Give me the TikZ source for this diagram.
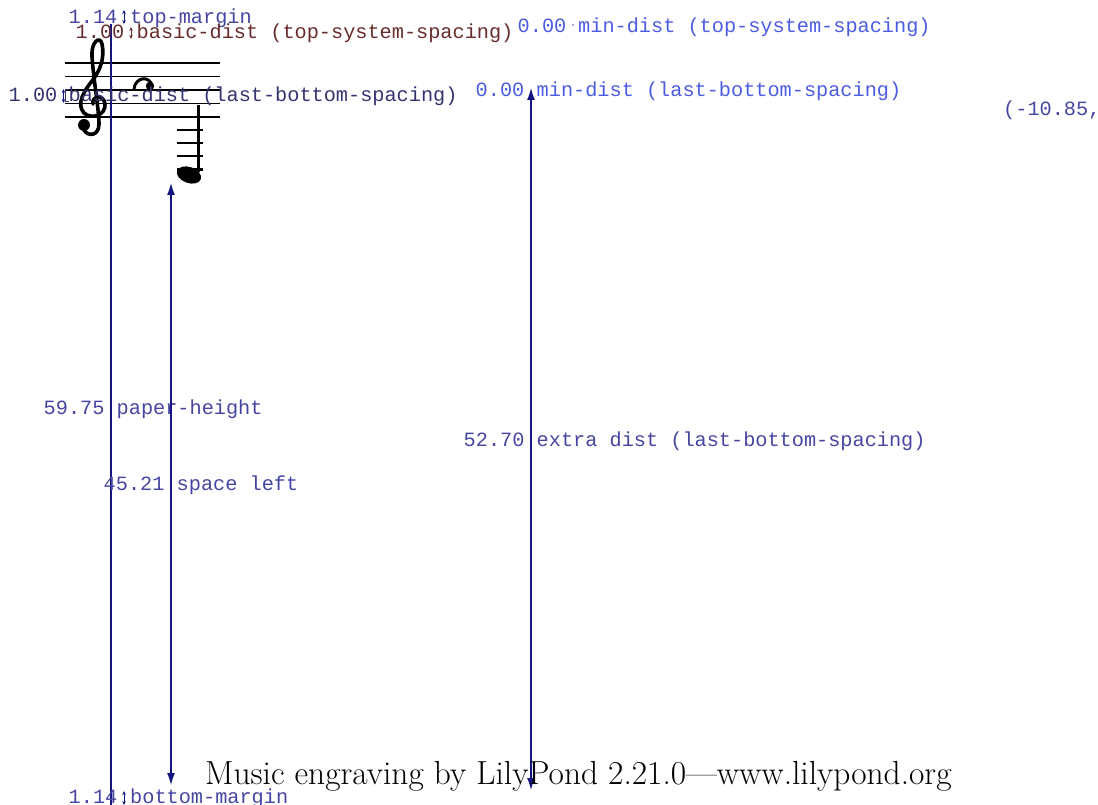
\documentclass[tikz,border=0pt]{standalone}
\usepackage{fontspec}
\setmonofont{Liberation Mono}
\usetikzlibrary{arrows.meta,positioning}
\definecolor{annblue}{RGB}{70,70,162}
\definecolor{mindist}{RGB}{76,92,226}
\definecolor{basicbrown}{RGB}{104,44,44}
\definecolor{lastblue}{RGB}{52,52,112}
\definecolor{linenavy}{RGB}{20,20,130}
\tikzset{
  ann/.style={font=\ttfamily\fontsize{20.25}{24}\selectfont, inner sep=0pt, anchor=base west, text=annblue},
  mind/.style={ann, text=mindist},
  basic/.style={ann, text=basicbrown},
  lastb/.style={ann, text=lastblue},
  dim/.style={{Latex[length=12pt,width=8pt]}-{Latex[length=12pt,width=8pt]}, draw=linenavy, line width=1.2pt},
  tiny/.style={{Stealth[length=4pt,width=3.5pt]}-{Stealth[length=4pt,width=3.5pt]}, draw=linenavy, line width=1pt},
  staffline/.style={draw=black, line width=1.2pt},
}

\begin{document}
\begin{tikzpicture}[x=1pt, y=-1pt]
  \useasboundingbox (0,0) rectangle (1098,805);

  % STAFF
  \foreach \y in {63,76.5,90,103.5,117}
    \draw[staffline] (65,\y) -- (220,\y);
  % treble clef
  \draw[line width=3.6pt, line cap=round] (93,104) .. controls (91,96) and (104,94) .. (105,104)
    .. controls (106,115) and (92,120) .. (84,113) .. controls (76,104) and (84,91) .. (92,81)
    .. controls (100,71) and (105,58) .. (102,44) .. controls (100,35) and (91,42) .. (92,56)
    .. controls (93,76) and (99,110) .. (99,124) .. controls (99,136) and (88,137) .. (84,130);
  \fill (84,125) circle (6);
  % arc mark and note
  \draw[line width=3pt] (134,89) .. controls (135,77) and (150,75) .. (152,86);
  \fill (150,86) circle (4.2);
  \foreach \y in {130,143,156,169.5}
    \draw[line width=2.6pt] (177,\y) -- (203,\y);
  \draw[line width=2.4pt] (198.5,105) -- (198.5,172);
  \fill[rotate around={-20:(189,175)}] (189,175) ellipse (12.5 and 8);

  % PAPER HEIGHT
  \coordinate (ph top) at (111,24);
  \coordinate (ph bot) at (111,805);
  \draw[draw=linenavy, line width=1.2pt] (ph top) -- (ph bot);
  \node[ann] (ph num) at (43.5,414) {59.75};
  \node[ann] (ph lbl) at (116.5,414) {paper-height};

  % TOP MARGIN
  \coordinate (tm top) at (124,10);
  \coordinate (tm bot) at (124,24);
  \draw[tiny] (tm top) -- (tm bot);
  \node[ann] (tm num) at (68.5,24) {1.14};
  \node[ann] (tm lbl) at (130,24) {top-margin};

  % BASIC DIST (TOP SYSTEM)
  \coordinate (bd top) at (131,27);
  \coordinate (bd bot) at (131,39);
  \draw[tiny, draw=basicbrown] (bd top) -- (bd bot);
  \node[basic] (bd num) at (75.5,38.5) {1.00};
  \node[basic] (bd lbl) at (136.5,38.5) {basic-dist (top-system-spacing)};

  % MIN DIST (TOP SYSTEM)
  \coordinate (md dot) at (573,25);
  \fill[mindist] (md dot) circle (0.9);
  \node[mind] (md num) at (517.5,33) {0.00};
  \node[mind] (md lbl) at (578,33) {min-dist (top-system-spacing)};

  % BASIC DIST (LAST BOTTOM)
  \coordinate (lb top) at (63.5,89);
  \coordinate (lb bot) at (63.5,103);
  \draw[tiny] (lb top) -- (lb bot);
  \draw[draw=lastblue, line width=1pt] (69,90) -- (65.5,90) -- (65.5,102) -- (69,102);
  \node[lastb] (lb num) at (8.5,102) {1.00};
  \node[lastb] (lb lbl) at (68.5,102) {basic-dist (last-bottom-spacing)};

  % MIN DIST (LAST BOTTOM)
  \node[mind] (ml num) at (475.5,96.5) {0.00};
  \node[mind] (ml lbl) at (536.5,96.5) {min-dist (last-bottom-spacing)};

  % OFFSET
  \node[ann] (off) at (1003,116) {(-10.85,};

  % SPACE LEFT
  \coordinate (sl top) at (171,183);
  \coordinate (sl bot) at (171,785);
  \draw[dim] (sl top) -- (sl bot);
  \node[ann] (sl num) at (103.5,490) {45.21};
  \node[ann] (sl lbl) at (176.5,490) {space left};

  % EXTRA DIST
  \coordinate (ed top) at (531,88);
  \coordinate (ed bot) at (531,790);
  \draw[dim] (ed top) -- (ed bot);
  \node[ann] (ed num) at (463.5,446) {52.70};
  \node[ann] (ed lbl) at (536.5,446) {extra dist (last-bottom-spacing)};

  % BOTTOM MARGIN
  \coordinate (bm top) at (124,791);
  \coordinate (bm bot) at (124,805);
  \draw[tiny] (bm top) -- (bm bot);
  \node[ann] (bm num) at (68.5,803) {1.14};
  \node[ann] (bm lbl) at (130,803) {bottom-margin};

  % FOOTER
  \node[inner sep=0pt, anchor=base west, font=\fontsize{33.4}{40}\selectfont] (tag) at (205,784)
    {Music engraving by LilyPond 2.21.0---www.lilypond.org};
\end{tikzpicture}
\end{document}
